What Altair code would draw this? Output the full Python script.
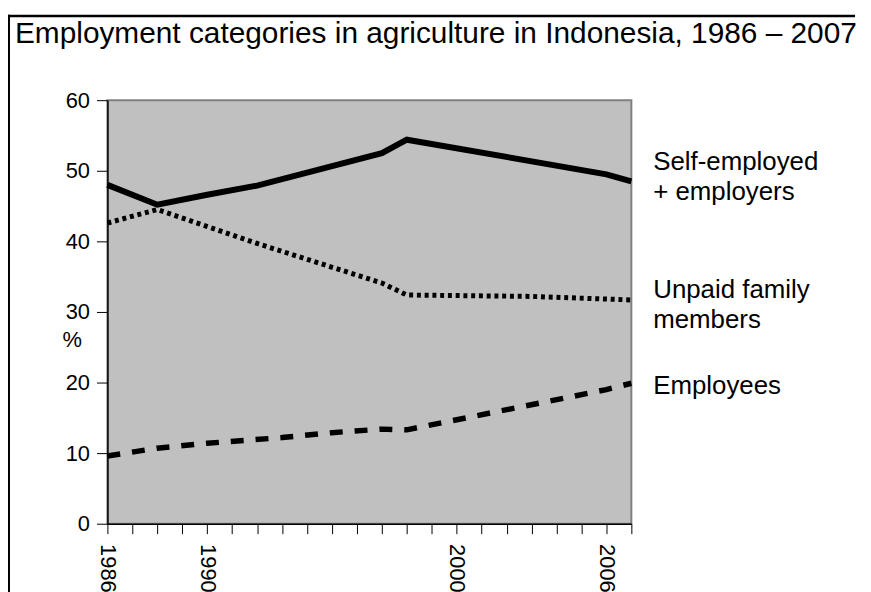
import altair as alt
import pandas as pd

FONT = "Liberation Sans"
TITLE = "Employment categories in agriculture in Indonesia, 1986 – 2007"
Y_TITLE = "%"

# Series
se_years = [1986, 1988, 1990, 1992, 1997, 1998, 2006, 2007]
se_values = [48.0, 45.2, 46.6, 47.9, 52.5, 54.4, 49.5, 48.5]

uf_years = [1986, 1988, 1992, 1997, 1998, 2003, 2007]
uf_values = [42.6, 44.5, 39.7, 34.1, 32.4, 32.2, 31.7]

em_years = [1986, 1988, 1990, 1993, 1995, 1997, 1998, 2006, 2007]
em_values = [9.6, 10.7, 11.4, 12.2, 12.9, 13.4, 13.3, 19.0, 19.9]

series_labels = ["Self-employed\n+ employers", "Unpaid family\nmembers", "Employees"]

x_tick_values = list(range(1986, 2008))
x_labelled = [1986, 1990, 2000, 2006]
y_tick_values = [0, 10, 20, 30, 40, 50, 60]

W, H = 527, 426

xs = alt.Scale(domain=[1986, 2007], nice=False, zero=False)
ys = alt.Scale(domain=[0, 60], nice=False, zero=True)

label_test = "indexof([" + ",".join(str(v) for v in x_labelled) + "], datum.value) >= 0 ? datum.label : ''"

xaxis = alt.Axis(
    values=x_tick_values, format="d", labelExpr=label_test, title=None, grid=False,
    domainColor="black", domainWidth=1.5, tickColor="black", tickWidth=1, tickSize=10,
    labelAngle=90, labelAlign="left", labelBaseline="middle", labelPadding=10,
    labelFontSize=22, labelFont=FONT, labelColor="black", labelFlush=False, labelOverlap=False,
)
yaxis = alt.Axis(
    values=y_tick_values, format="d", title=Y_TITLE, grid=False,
    domainColor="black", domainWidth=1.5, tickColor="black", tickWidth=1, tickSize=11,
    labelPadding=7, labelFontSize=22, labelFont=FONT, labelColor="black",
    titleAngle=0, titleX=-36, titleY=241, titleAlign="center", titleBaseline="middle",
    titleFontSize=22, titleFont=FONT, titleFontWeight="normal", titleColor="black",
)


def frame(years, values, label):
    return pd.DataFrame({"year": years, "value": values, "label": label})


df_se = frame(se_years, se_values, series_labels[0])
df_uf = frame(uf_years, uf_values, series_labels[1])
df_em = frame(em_years, em_values, series_labels[2])


def line(df, width, dash=None):
    kw = dict(color="black", strokeWidth=width, clip=False, strokeCap="butt")
    if dash is not None:
        kw["strokeDash"] = dash
    return alt.Chart(df).mark_line(**kw).encode(
        x=alt.X("year:Q", scale=xs, axis=xaxis),
        y=alt.Y("value:Q", scale=ys, axis=yaxis),
    )


def end_label(df, dy):
    last = df.tail(1)
    return alt.Chart(last).mark_text(
        align="left", baseline="alphabetic", dx=22, dy=dy, fontSize=26, font=FONT,
        lineBreak="\n", lineHeight=30, color="black",
    ).encode(
        x=alt.X("year:Q", scale=xs, axis=xaxis),
        y=alt.Y("value:Q", scale=ys, axis=yaxis),
        text="label:N",
    )


one = pd.DataFrame({"k": [0]})
frame_left = alt.Chart(one).mark_rect(color="black", clip=False).encode(
    x=alt.value(-100), x2=alt.value(-98), y=alt.value(-86), y2=alt.value(600)
)
frame_top = alt.Chart(one).mark_rect(color="black", clip=False).encode(
    x=alt.value(-100), x2=alt.value(752), y=alt.value(-86), y2=alt.value(-83.5)
)

title = alt.Chart(pd.DataFrame({"t": [TITLE]})).mark_text(
    align="left", baseline="alphabetic", fontSize=30, font=FONT, color="black"
).encode(x=alt.value(-93), y=alt.value(-58), text="t:N")

chart = alt.layer(
    frame_left,
    line(df_se, 6),
    line(df_uf, 5, [4, 3.8]),
    line(df_em, 5.5, [13, 12]),
    end_label(df_se, -11.4),
    end_label(df_uf, -2.2),
    end_label(df_em, 11.3),
    title,
    frame_top,
).properties(
    width=W, height=H,
    background="white",
    autosize=alt.AutoSizeParams(type="none"),
    padding={"left": 100, "top": 91, "right": 233, "bottom": 73},
).configure_view(
    fill="#c0c0c0", stroke="#808080", strokeWidth=2
)

chart.save("out.html", embed_options={"renderer": "svg", "actions": False})
